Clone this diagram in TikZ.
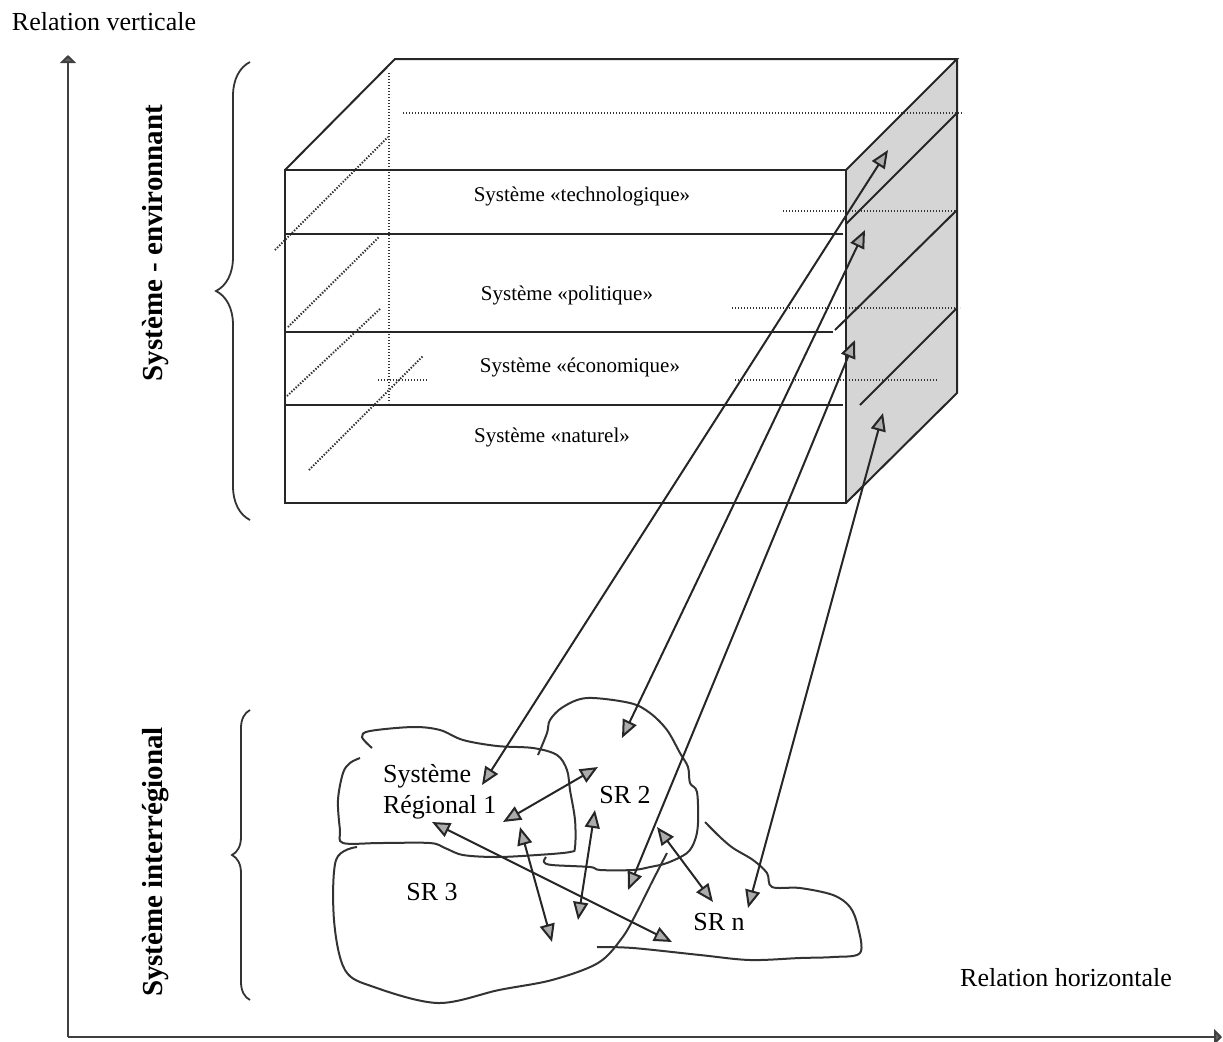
\documentclass[tikz,border=0pt]{standalone}
\usepackage{fontspec}
\setmainfont{Liberation Serif}
\usetikzlibrary{arrows.meta,decorations.pathreplacing,positioning}
\tikzset{
	axis/.style={line width=1.2pt, draw=black!75, -{Triangle[length=4pt,width=8pt,fill=black!60]}},
	axis label/.style={font=\fontsize{13}{15}\selectfont},
	side label/.style={rotate=90, font=\bfseries\fontsize{14.5}{17}\selectfont},
	bracket/.style={line width=0.9pt, draw=black!80, decorate},
	edge/.style={line width=1pt, draw=black!85},
	hidden/.style={line width=1pt, draw=black!80, dash pattern=on 0.7pt off 0.8pt},
	layer label/.style={font=\fontsize{10.5}{12}\selectfont},
	region/.style={line width=1pt, draw=black!80},
	region label/.style={font=\fontsize{13}{15.5}\selectfont, align=left},
	link/.style={line width=1pt, draw=black!85,
		{Triangle[length=9pt,width=7.5pt,fill=gray!65]}-{Triangle[length=9pt,width=7.5pt,fill=gray!65]}}
}
\begin{document}
\begin{tikzpicture}[x=0.5pt,y=-0.5pt]
	\useasboundingbox (0,0) rectangle (1223,1041);
	
	% axes
	\coordinate (O) at (68,1037);
	\coordinate (ytop) at (68,55);
	\coordinate (xend) at (1222,1037);
	\draw[axis] (O) -- (ytop);
	\draw[axis] (O) -- (xend);
	\node[axis label] (relv) at (104,22) {Relation verticale};
	\node[axis label] (relh) at (1066,978) {Relation horizontale};
	
	% braces and their labels
	\draw[bracket, decoration={brace,amplitude=17pt}] (250,520) -- (250,62);
	\draw[bracket, decoration={brace,amplitude=9pt}] (250,1000) -- (250,710);
	\node[side label] (env) at (156,243) {Système - environnant};
	\node[side label] (inter) at (156,862) {Système interrégional};
	
	% the box of layers
	\fill[gray!33] (846,170) -- (957,59) -- (957,393) -- (846,503) -- cycle;
	\draw[hidden] (389,73) -- (389,403);
	\draw[hidden] (403,113) -- (962,113);
	\draw[hidden] (783,211) -- (958,211);
	\draw[hidden] (732,308) -- (960,308);
	\draw[hidden] (735,380) -- (938,380);
	\draw[hidden] (378,380) -- (427,380);
	\draw[hidden] (275,250) -- (388,137);
	\draw[hidden] (288,327) -- (379,237);
	\draw[hidden] (287,396) -- (381,308);
	\draw[hidden] (309,470) -- (423,356);
	\draw[edge] (285,170) rectangle (846,503);
	\draw[edge] (285,170) -- (395,59) -- (957,59) -- (846,170);
	\draw[edge] (957,59) -- (957,393) -- (846,503);
	\draw[edge] (285,234) -- (843,234);
	\draw[edge] (285,332) -- (833,332);
	\draw[edge] (285,405) -- (843,405);
	\draw[edge] (846,224) -- (957,113);
	\draw[edge] (835,330) -- (957,210);
	\draw[edge] (860,405) -- (957,308);
	\node[layer label] (tech) at (582,196) {Système «technologique»};
	\node[layer label] (pol) at (567,295) {Système «politique»};
	\node[layer label] (eco) at (580,367) {Système «économique»};
	\node[layer label] (nat) at (552,437) {Système «naturel»};
	
	% regions
	\draw[region] plot[smooth, tension=0.55] coordinates {(372,748) (362,737) (370,731) (413,727) (440,730) (463,740) (497,746) (533,748) (557,755) (567,770) (570,790) (575,820) (575,847) (570,852) (537,855) (497,857) (463,855) (445,848) (430,843) (380,843) (343,843) (340,830) (338,800) (343,773) (350,763) (360,758)};
	\draw[region] plot[smooth, tension=0.55] coordinates {(538,755) (547,733) (550,720) (563,707) (587,698) (630,703) (650,713) (667,730) (680,753) (688,767) (690,783) (697,792) (698,823) (695,840) (687,853) (667,863) (650,867) (633,870) (600,870) (590,867) (552,865) (544,862) (546,857)};
	\draw[region] plot[smooth, tension=0.55] coordinates {(357,847) (336,860) (334,920) (345,970) (374,987) (438,1003) (499,990) (552,980) (598,963) (622,938) (637,912) (652,882) (667,853)};
	\draw[region] plot[smooth, tension=0.55] coordinates {(705,822) (720,837) (733,848) (753,860) (767,873) (772,887) (800,888) (833,895) (850,907) (858,927) (860,953) (833,957) (800,958) (750,960) (700,955) (633,948) (597,947)};
	\node[region label, anchor=west] (sr1) at (376,792) {Système\\Régional 1};
	\node[region label] (sr2) at (625,795) {SR 2};
	\node[region label] (sr3) at (432,892) {SR 3};
	\node[region label] (srn) at (719,922) {SR n};
	
	% ends of the links
	\coordinate (t1) at (888,150);
	\coordinate (t2) at (865,230);
	\coordinate (t3) at (855,340);
	\coordinate (t4) at (883,413);
	\coordinate (r1) at (482,785);
	\coordinate (r2) at (622,738);
	\coordinate (r3) at (628,890);
	\coordinate (rn) at (748,908);
	\coordinate (a1) at (503,822);
	\coordinate (a2) at (598,767);
	\coordinate (b1) at (520,827);
	\coordinate (b2) at (552,942);
	\coordinate (c1) at (595,810);
	\coordinate (c2) at (578,920);
	\coordinate (d1) at (432,822);
	\coordinate (d2) at (672,942);
	\coordinate (e1) at (657,827);
	\coordinate (e2) at (713,902);
	
	% vertical relations
	\draw[link] (r1) -- (t1);
	\draw[link] (r2) -- (t2);
	\draw[link] (r3) -- (t3);
	\draw[link] (rn) -- (t4);
	% horizontal relations
	\draw[link] (a1) -- (a2);
	\draw[link] (b1) -- (b2);
	\draw[link] (c1) -- (c2);
	\draw[link] (d1) -- (d2);
	\draw[link] (e1) -- (e2);
\end{tikzpicture}
\end{document}
